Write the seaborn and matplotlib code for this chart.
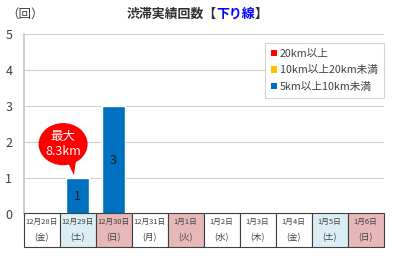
import matplotlib
matplotlib.use("Agg")
import matplotlib.pyplot as plt
import seaborn as sns
import pandas as pd
from matplotlib.patches import Ellipse, Polygon, Rectangle, Patch

dates = ["12月28日", "12月29日", "12月30日", "12月31日", "1月1日",
         "1月2日", "1月3日", "1月4日", "1月5日", "1月6日"]
weekdays = ["(金)", "(土)", "(日)", "(月)", "(火)", "(水)", "(木)", "(金)", "(土)", "(日)"]
day_types = ["w", "sat", "hol", "w", "hol", "w", "w", "w", "sat", "hol"]
series_names = ["20km以上", "10km以上20km未満", "5km以上10km未満"]
s20 = [0, 0, 0, 0, 0, 0, 0, 0, 0, 0]
s10 = [0, 0, 0, 0, 0, 0, 0, 0, 0, 0]
s5 = [0, 1, 3, 0, 0, 0, 0, 0, 0, 0]
max_len_label = "最大\n8.3km"
yticks = [0, 1, 2, 3, 4, 5]

colors = ["#FF0000", "#FFC000", "#0070C0"]
cell_colors = {"w": "#FFFFFF", "sat": "#DAEEF3", "hol": "#E6B8B7"}

sns.set_theme(style="white")
plt.rcParams["font.family"] = ["Noto Sans CJK JP", "DejaVu Sans"]

rows = []
for name, vals in zip(series_names, [s20, s10, s5]):
    for d, v in zip(dates, vals):
        rows.append({"date": d, "series": name, "count": v})
df = pd.DataFrame(rows)

fig = plt.figure(figsize=(3.93, 2.56), dpi=100)
ax = fig.add_axes([23.5 / 393, 42 / 256, 360 / 393, 180 / 256])

sns.barplot(data=df, x="date", y="count", hue="series", order=dates,
            hue_order=series_names, palette=colors, dodge=False,
            width=0.64, saturation=1, ax=ax, legend=False)

ax.set_xlim(-0.5, len(dates) - 0.5)
ax.set_ylim(0, 5)
ax.set_yticks(yticks)
ax.set_yticklabels([str(t) for t in yticks], fontsize=9, color="#404040")
ax.set_xticks([])
ax.set_xlabel("")
ax.set_ylabel("")
ax.yaxis.grid(True, color="#D0D0D0", linewidth=0.8)
ax.set_axisbelow(True)
for s in ["top", "right", "bottom"]:
    ax.spines[s].set_visible(False)
ax.spines["left"].set_color("#C8C8C8")
ax.tick_params(axis="y", length=3, color="#C8C8C8", pad=5)

# bar labels for the 5km series
cont = ax.containers[2]
labels = [str(v) if v > 0 else "" for v in s5]
ax.bar_label(cont, labels=labels, label_type="center", fontsize=9, color="#202020")

# legend
handles = [Patch(facecolor=c, edgecolor="none") for c in colors]
leg = ax.legend(handles, series_names, loc="upper right", bbox_to_anchor=(1.0, 0.95),
                borderaxespad=0, fontsize=7.7, frameon=True, fancybox=False,
                handlelength=0.5, handleheight=0.5, handletextpad=0.3,
                labelspacing=0.6, borderpad=0.55, labelcolor="#404040")
leg.get_frame().set_edgecolor("#C8C8C8")
leg.get_frame().set_linewidth(0.8)

# callout near the maximum-length day
imax = 1
cx, cy = imax - 0.40, 1.94
ax.add_patch(Ellipse((cx, cy), 1.36, 1.17, facecolor="#FF0000", edgecolor="none",
                     zorder=5, clip_on=False))
ax.add_patch(Polygon([(imax - 0.30, 1.5), (imax - 0.04, 1.5), (imax - 0.10, 1.08)],
                     closed=True, facecolor="#FF0000", edgecolor="none", zorder=5))
ax.text(cx, cy, max_len_label, ha="center", va="center", color="white",
        fontsize=9, linespacing=1.25, zorder=6)

# table below
tax = fig.add_axes([23.5 / 393, 9 / 256, 360 / 393, 34 / 256])
tax.set_xlim(-0.5, len(dates) - 0.5)
tax.set_ylim(0, 1)
tax.axis("off")
for i, (d, w, t) in enumerate(zip(dates, weekdays, day_types)):
    tax.add_patch(Rectangle((i - 0.5, 0), 1, 1, facecolor=cell_colors[t],
                            edgecolor="#404040", linewidth=0.8, clip_on=False))
    tax.text(i, 0.74, d, ha="center", va="center", fontsize=5.5, color="#404040")
    tax.text(i, 0.28, w, ha="center", va="center", fontsize=6.2, color="#404040")

# title
fig.text(6 / 393, 1 - 14 / 256, "（回）", ha="left", va="center", fontsize=9, color="#404040")
parts = [("渋滞実績回数【", "#303030"), ("下り線", "#0000FF"), ("】", "#303030")]
fig.canvas.draw()
r = fig.canvas.get_renderer()
texts = []
for s, c in parts:
    t = fig.text(0, 1 - 14 / 256, s, ha="left", va="center", fontsize=9.3,
                 fontweight="bold", color=c)
    texts.append(t)
widths = [t.get_window_extent(r).width / fig.bbox.width for t in texts]
x = 197 / 393 - sum(widths) / 2
for t, w in zip(texts, widths):
    t.set_x(x)
    x += w

fig.savefig("out.png", dpi=100)
